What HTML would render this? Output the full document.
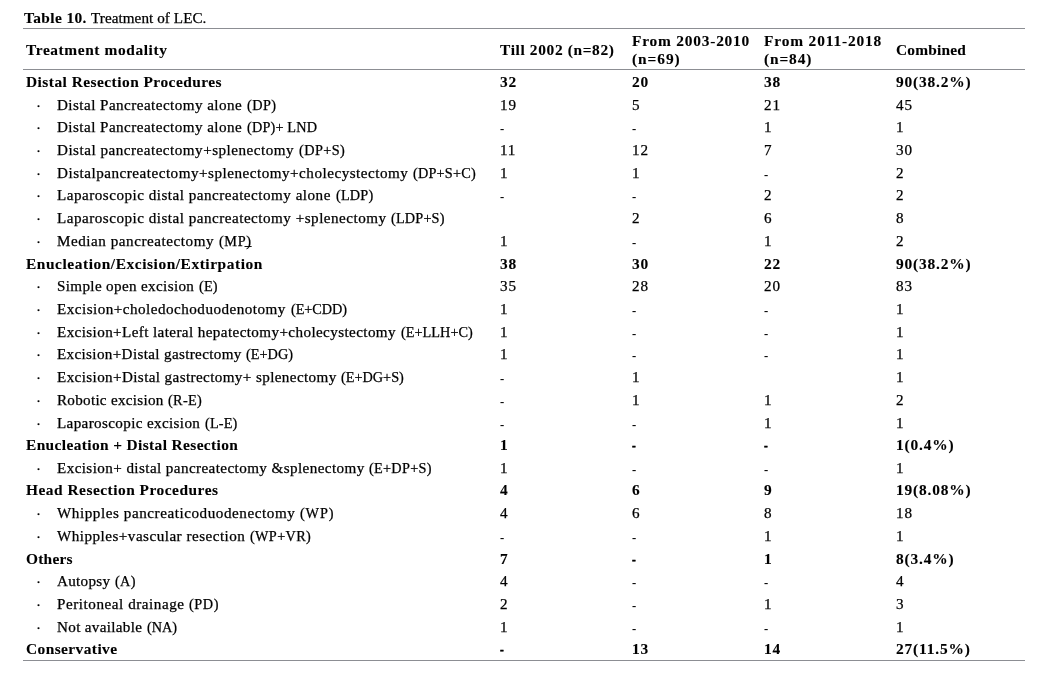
<!DOCTYPE html>
<html><head><meta charset="utf-8"><title>Table 10</title>
<style>
html,body{margin:0;padding:0;background:#fff;}
body{width:1056px;height:673px;position:relative;overflow:hidden;font-family:"Liberation Serif",serif;color:#000;font-size:14px;}
.ln{position:absolute;left:23px;width:1002px;height:1px;background:#8c8e93;}
.row{position:absolute;left:0;width:1056px;height:22px;line-height:22px;white-space:nowrap;}
.t{position:absolute;top:0;white-space:pre;transform-origin:0 50%;transform:scaleX(1.08);letter-spacing:0.8px;}
.u{transform:scaleX(1.02);}
.b{font-weight:bold;transform:scaleX(1.1);letter-spacing:0.75px;}
.t{-webkit-text-stroke:0.25px #000;}
.b{-webkit-text-stroke:0.1px #000;}
.d{transform:scaleX(0.9);-webkit-text-stroke:0;margin-top:1px;}
.d.b{transform:scaleX(0.8);-webkit-text-stroke:0.6px #000;margin-top:0px;}
u{text-decoration:none;display:inline-block;line-height:8px;border-bottom:1px solid #111;margin-left:-1.8px;padding-left:1.8px;}
.dot{left:35.6px;font-weight:normal;margin-top:1px;}
.hd{line-height:17px;}
.cap{line-height:16px;}
</style></head><body>
<span class="t b cap" id="capb" style="left:24.3px;top:11px;letter-spacing:0.347px">Table 10.</span>
<span class="t cap" id="capr" style="left:91.2px;top:11px;letter-spacing:0.076px">Treatment of LEC.</span>
<div class="ln" style="top:28px"></div>
<div class="ln" style="top:69px"></div>
<div class="ln" style="top:660px"></div>
<span class="t b hd" id="h0" style="left:25.8px;top:42px;letter-spacing:0.543px">Treatment modality</span>
<span class="t b hd" id="h1" style="left:499.6px;top:42px;letter-spacing:0.580px">Till 2002 (n=82)</span>
<span class="t b hd" id="h2a" style="left:632.3px;top:33px;letter-spacing:0.715px">From 2003-2010</span>
<span class="t b hd" id="h2b" style="left:632.3px;top:50.5px;letter-spacing:0.854px">(n=69)</span>
<span class="t b hd" id="h3a" style="left:764.3px;top:33px;letter-spacing:0.774px">From 2011-2018</span>
<span class="t b hd" id="h3b" style="left:764.3px;top:50.5px;letter-spacing:0.799px">(n=84)</span>
<span class="t b hd" id="h4" style="left:896px;top:42px;letter-spacing:0.187px">Combined</span>

<div class="row" style="top:72.00px"><span class="t b" id="r0" style="left:26.4px;letter-spacing:0.428px">Distal Resection Procedures</span><span class="t b" style="left:500.2px">32</span><span class="t b" style="left:632.2px">20</span><span class="t b" style="left:764.2px">38</span><span class="t b" style="left:896.2px">90(38.2%)</span></div>
<div class="row" style="top:95.00px"><span class="t dot">·</span><span class="t" id="p1" style="left:57.4px;letter-spacing:0.418px">Distal Pancreatectomy alone </span><span class="t u" id="s1" style="left:246.80px;letter-spacing:0.399px">(DP)</span><span class="t" style="left:500.4px">19</span><span class="t" style="left:632.1px">5</span><span class="t" style="left:764.1px">21</span><span class="t" style="left:896.1px">45</span></div>
<div class="row" style="top:117.00px"><span class="t dot">·</span><span class="t" id="p2" style="left:57.4px;letter-spacing:0.418px">Distal Pancreatectomy alone </span><span class="t u" id="s2" style="left:246.80px;letter-spacing:0.155px">(DP)+ LND</span><span class="t d" style="left:499.9px">-</span><span class="t d" style="left:631.9px">-</span><span class="t" style="left:764.4px">1</span><span class="t" style="left:896.4px">1</span></div>
<div class="row" style="top:140.00px"><span class="t dot">·</span><span class="t" id="p3" style="left:57.4px;letter-spacing:0.465px">Distal pancreatectomy+splenectomy </span><span class="t u" id="s3" style="left:298.80px;letter-spacing:0.399px">(DP+S)</span><span class="t" style="left:500.4px">11</span><span class="t" style="left:632.4px">12</span><span class="t" style="left:764.1px">7</span><span class="t" style="left:896.1px">30</span></div>
<div class="row" style="top:163.00px"><span class="t dot">·</span><span class="t" id="p4" style="left:57.4px;letter-spacing:0.472px">Distalpancreatectomy+splenectomy+cholecystectomy </span><span class="t u" id="s4" style="left:413.05px;letter-spacing:0.197px">(DP+S+C)</span><span class="t" style="left:500.4px">1</span><span class="t" style="left:632.4px">1</span><span class="t d" style="left:763.9px">-</span><span class="t" style="left:896.1px">2</span></div>
<div class="row" style="top:185.00px"><span class="t dot">·</span><span class="t" id="p5" style="left:57.4px;letter-spacing:0.460px">Laparoscopic distal pancreatectomy alone </span><span class="t u" id="s5" style="left:335.55px;letter-spacing:0.185px">(LDP)</span><span class="t d" style="left:499.9px">-</span><span class="t d" style="left:631.9px">-</span><span class="t" style="left:764.1px">2</span><span class="t" style="left:896.1px">2</span></div>
<div class="row" style="top:208.00px"><span class="t dot">·</span><span class="t" id="p6" style="left:57.4px;letter-spacing:0.461px">Laparoscopic distal pancreatectomy +splenectomy </span><span class="t u" id="s6" style="left:391.30px;letter-spacing:0.164px">(LDP+S)</span><span class="t" style="left:632.1px">2</span><span class="t" style="left:764.1px">6</span><span class="t" style="left:896.1px">8</span></div>
<div class="row" style="top:231.00px"><span class="t dot">·</span><span class="t" id="p7" style="left:57.4px;letter-spacing:0.502px">Median pancreatectomy </span><span class="t u" id="s7" style="left:218.80px;letter-spacing:0.598px">(MP<u>)</u></span><span class="t" style="left:500.4px">1</span><span class="t d" style="left:631.9px">-</span><span class="t" style="left:764.4px">1</span><span class="t" style="left:896.1px">2</span></div>
<div class="row" style="top:254.00px"><span class="t b" id="r8" style="left:26.4px;letter-spacing:0.506px">Enucleation/Excision/Extirpation</span><span class="t b" style="left:500.2px">38</span><span class="t b" style="left:632.2px">30</span><span class="t b" style="left:764.2px">22</span><span class="t b" style="left:896.2px">90(38.2%)</span></div>
<div class="row" style="top:276.00px"><span class="t dot">·</span><span class="t" id="p9" style="left:57.4px;letter-spacing:0.328px">Simple open excision </span><span class="t u" id="s9" style="left:198.80px;letter-spacing:0.123px">(E)</span><span class="t" style="left:500.1px">35</span><span class="t" style="left:632.1px">28</span><span class="t" style="left:764.1px">20</span><span class="t" style="left:896.1px">83</span></div>
<div class="row" style="top:299.00px"><span class="t dot">·</span><span class="t" id="p10" style="left:57.4px;letter-spacing:0.450px">Excision+choledochoduodenotomy </span><span class="t u" id="s10" style="left:290.55px;letter-spacing:-0.074px">(E+CDD)</span><span class="t" style="left:500.4px">1</span><span class="t d" style="left:631.9px">-</span><span class="t d" style="left:763.9px">-</span><span class="t" style="left:896.4px">1</span></div>
<div class="row" style="top:322.00px"><span class="t dot">·</span><span class="t" id="p11" style="left:57.4px;letter-spacing:0.371px">Excision+Left lateral hepatectomy+cholecystectomy </span><span class="t u" id="s11" style="left:400.55px;letter-spacing:0.016px">(E+LLH+C)</span><span class="t" style="left:500.4px">1</span><span class="t d" style="left:631.9px">-</span><span class="t d" style="left:763.9px">-</span><span class="t" style="left:896.4px">1</span></div>
<div class="row" style="top:344.00px"><span class="t dot">·</span><span class="t" id="p12" style="left:57.4px;letter-spacing:0.326px">Excision+Distal gastrectomy </span><span class="t u" id="s12" style="left:246.30px;letter-spacing:0.016px">(E+DG)</span><span class="t" style="left:500.4px">1</span><span class="t d" style="left:631.9px">-</span><span class="t d" style="left:763.9px">-</span><span class="t" style="left:896.4px">1</span></div>
<div class="row" style="top:367.00px"><span class="t dot">·</span><span class="t" id="p13" style="left:57.4px;letter-spacing:0.363px">Excision+Distal gastrectomy+ splenectomy </span><span class="t u" id="s13" style="left:341.20px;letter-spacing:-0.010px">(E+DG+S)</span><span class="t d" style="left:499.9px">-</span><span class="t" style="left:632.4px">1</span><span class="t" style="left:896.4px">1</span></div>
<div class="row" style="top:390.00px"><span class="t dot">·</span><span class="t" id="p14" style="left:57.4px;letter-spacing:0.262px">Robotic excision </span><span class="t u" id="s14" style="left:168.05px;letter-spacing:0.299px">(R-E)</span><span class="t d" style="left:499.9px">-</span><span class="t" style="left:632.4px">1</span><span class="t" style="left:764.4px">1</span><span class="t" style="left:896.1px">2</span></div>
<div class="row" style="top:413.00px"><span class="t dot">·</span><span class="t" id="p15" style="left:57.4px;letter-spacing:0.337px">Laparoscopic excision </span><span class="t u" id="s15" style="left:204.80px;letter-spacing:0.131px">(L-E)</span><span class="t d" style="left:499.9px">-</span><span class="t d" style="left:631.9px">-</span><span class="t" style="left:764.4px">1</span><span class="t" style="left:896.4px">1</span></div>
<div class="row" style="top:435.00px"><span class="t b" id="r16" style="left:26.4px;letter-spacing:0.346px">Enucleation + Distal Resection</span><span class="t b" style="left:500.2px">1</span><span class="t b d" style="left:631.9px">-</span><span class="t b d" style="left:763.9px">-</span><span class="t b" style="left:896.2px">1(0.4%)</span></div>
<div class="row" style="top:458.00px"><span class="t dot">·</span><span class="t" id="p17" style="left:57.4px;letter-spacing:0.385px">Excision+ distal pancreatectomy &amp;splenectomy </span><span class="t u" id="s17" style="left:369.30px;letter-spacing:0.274px">(E+DP+S)</span><span class="t" style="left:500.4px">1</span><span class="t d" style="left:631.9px">-</span><span class="t d" style="left:763.9px">-</span><span class="t" style="left:896.4px">1</span></div>
<div class="row" style="top:480.00px"><span class="t b" id="r18" style="left:26.4px;letter-spacing:0.457px">Head Resection Procedures</span><span class="t b" style="left:500.2px">4</span><span class="t b" style="left:632.2px">6</span><span class="t b" style="left:764.2px">9</span><span class="t b" style="left:896.2px">19(8.08%)</span></div>
<div class="row" style="top:503.00px"><span class="t dot">·</span><span class="t" id="p19" style="left:57.4px;letter-spacing:0.518px">Whipples pancreaticoduodenectomy </span><span class="t u" id="s19" style="left:300.05px;letter-spacing:0.838px">(WP)</span><span class="t" style="left:500.1px">4</span><span class="t" style="left:632.1px">6</span><span class="t" style="left:764.1px">8</span><span class="t" style="left:896.4px">18</span></div>
<div class="row" style="top:526.00px"><span class="t dot">·</span><span class="t" id="p20" style="left:57.4px;letter-spacing:0.452px">Whipples+vascular resection </span><span class="t u" id="s20" style="left:250.05px;letter-spacing:0.314px">(WP+VR)</span><span class="t d" style="left:499.9px">-</span><span class="t d" style="left:631.9px">-</span><span class="t" style="left:764.4px">1</span><span class="t" style="left:896.4px">1</span></div>
<div class="row" style="top:549.00px"><span class="t b" id="r21" style="left:26.4px;letter-spacing:0.229px">Others</span><span class="t b" style="left:500.2px">7</span><span class="t b d" style="left:631.9px">-</span><span class="t b" style="left:764.2px">1</span><span class="t b" style="left:896.2px">8(3.4%)</span></div>
<div class="row" style="top:571.00px"><span class="t dot">·</span><span class="t" id="p22" style="left:57.4px;letter-spacing:0.274px">Autopsy </span><span class="t u" id="s22" style="left:114.80px;letter-spacing:0.330px">(A)</span><span class="t" style="left:500.1px">4</span><span class="t d" style="left:631.9px">-</span><span class="t d" style="left:763.9px">-</span><span class="t" style="left:896.1px">4</span></div>
<div class="row" style="top:594.00px"><span class="t dot">·</span><span class="t" id="p23" style="left:57.4px;letter-spacing:0.509px">Peritoneal drainage </span><span class="t u" id="s23" style="left:189.30px;letter-spacing:0.562px">(PD)</span><span class="t" style="left:500.1px">2</span><span class="t d" style="left:631.9px">-</span><span class="t" style="left:764.4px">1</span><span class="t" style="left:896.1px">3</span></div>
<div class="row" style="top:617.00px"><span class="t dot">·</span><span class="t" id="p24" style="left:57.4px;letter-spacing:0.303px">Not available </span><span class="t u" id="s24" style="left:146.80px;letter-spacing:-0.045px">(NA)</span><span class="t" style="left:500.4px">1</span><span class="t d" style="left:631.9px">-</span><span class="t d" style="left:763.9px">-</span><span class="t" style="left:896.4px">1</span></div>
<div class="row" style="top:639.00px"><span class="t b" id="r25" style="left:26.4px;letter-spacing:0.388px">Conservative</span><span class="t b d" style="left:499.9px">-</span><span class="t b" style="left:632.2px">13</span><span class="t b" style="left:764.2px">14</span><span class="t b" style="left:896.2px">27(11.5%)</span></div>
</body></html>
